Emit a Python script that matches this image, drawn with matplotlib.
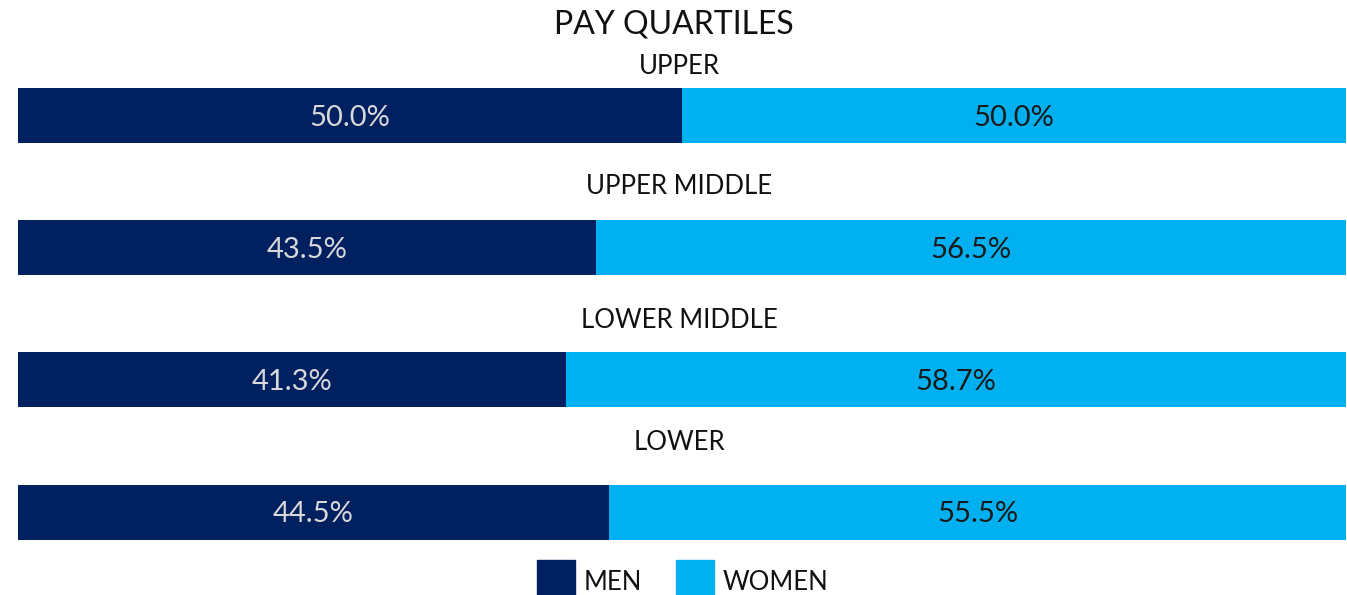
import numpy as np
import matplotlib.pyplot as plt
from matplotlib.patches import Rectangle

# data
quartiles = ['UPPER', 'UPPER MIDDLE', 'LOWER MIDDLE', 'LOWER']
men = [50.0, 43.5, 41.3, 44.5]
women = [50.0, 56.5, 58.7, 55.5]
series = ['MEN', 'WOMEN']

navy = '#002060'
sky = '#00B0F0'

plt.rcParams['font.family'] = ['Lato', 'DejaVu Sans']

W, H = 1347, 595
fig = plt.figure(figsize=(W / 100, H / 100), dpi=100)
# axes in pixel units, y going down
ax = fig.add_axes([18 / W, 0, 1328 / W, 1])
ax.set_xlim(0, 100)
ax.set_ylim(H, 0)
ax.axis('off')

bar_y = [115.5, 247.5, 379.5, 512.5]   # bar centres (px)
label_y = [66, 186, 320, 442]          # quartile label centres (px)
bar_h = 55

ax.barh(bar_y, men, height=bar_h, color=navy)
ax.barh(bar_y, women, left=men, height=bar_h, color=sky)

for i, q in enumerate(quartiles):
    ax.text(49.8, label_y[i], q, ha='center', va='center', fontsize=18.5,
            color='#111111')
    ax.text(men[i] / 2, bar_y[i] + 2, f'{men[i]:.1f}%', ha='center', va='center',
            fontsize=21, color='#D9D9D9')
    ax.text(men[i] + women[i] / 2, bar_y[i] + 2, f'{women[i]:.1f}%', ha='center',
            va='center', fontsize=21, color='#1a1a1a')

fig.text(673.5 / W, 1 - 24 / H, 'PAY QUARTILES', ha='center', va='center',
         fontsize=23, color='#111111')

# legend drawn by hand to sit at the bottom edge
for x0, name, c in [(537, series[0], navy), (676, series[1], sky)]:
    fig.patches.append(Rectangle((x0 / W, 0), 38 / W, 35 / H, color=c,
                                 transform=fig.transFigure, figure=fig))
    fig.text((x0 + 47) / W, 1 - 582 / H, name, ha='left', va='center',
             fontsize=18.5, color='#111111')

fig.savefig('out.png', dpi=100)
